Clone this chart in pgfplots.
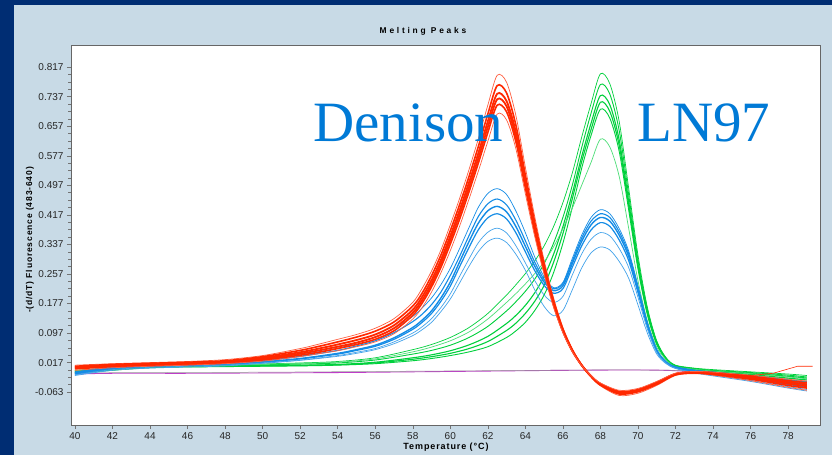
\documentclass[border=0pt]{standalone}
\usepackage{fontspec}
\setmainfont{Liberation Sans}
\newfontfamily\serifbig{Liberation Serif}
\newfontfamily\spacedbold[LetterSpace=33]{Liberation Sans}
\newfontfamily\labelbold[LetterSpace=10]{Liberation Sans}
\usepackage{pgfplots}
\usepackage{pgfplotstable}
\pgfplotsset{compat=1.18}

\definecolor{frameblue}{RGB}{0,45,115}
\definecolor{panel}{RGB}{200,218,230}
\definecolor{curvered}{RGB}{255,40,0}
\definecolor{curvegreen}{RGB}{0,208,60}
\definecolor{curveblue}{RGB}{20,140,230}
\definecolor{curvemag}{RGB}{190,60,200}
\definecolor{annot}{RGB}{0,122,214}

% Denison (red)
\pgfplotstableread{
T    r1     r2     r3     r4     r5     r6
40   0.010  0.007  0.005  0.003  0.000 -0.004
42   0.014  0.012  0.010  0.008  0.006  0.003
44   0.017  0.015  0.013  0.011  0.009  0.007
46   0.020  0.018  0.016  0.014  0.012  0.010
48   0.025  0.022  0.020  0.018  0.016  0.014
50   0.036  0.033  0.030  0.027  0.024  0.021
52   0.055  0.050  0.045  0.041  0.037  0.033
53   0.067  0.061  0.055  0.050  0.045  0.041
54   0.080  0.073  0.066  0.060  0.055  0.049
55   0.093  0.086  0.078  0.071  0.066  0.060
56   0.110  0.102  0.093  0.086  0.080  0.073
57   0.136  0.127  0.118  0.110  0.103  0.095
58   0.180  0.170  0.160  0.152  0.145  0.135
58.5 0.218  0.205  0.195  0.186  0.178  0.166
59   0.265  0.252  0.240  0.230  0.222  0.208
59.5 0.322  0.308  0.295  0.285  0.275  0.260
60   0.390  0.374  0.360  0.349  0.338  0.320
60.5 0.462  0.445  0.430  0.418  0.406  0.387
61   0.540  0.521  0.505  0.492  0.480  0.460
61.5 0.624  0.603  0.585  0.571  0.558  0.536
62   0.714  0.690  0.670  0.655  0.640  0.616
62.5 0.795  0.767  0.745  0.730  0.714  0.690
63   0.776  0.747  0.725  0.711  0.696  0.674
63.5 0.685  0.659  0.640  0.627  0.614  0.595
64   0.546  0.525  0.510  0.500  0.490  0.474
64.5 0.412  0.397  0.385  0.377  0.370  0.358
65   0.294  0.283  0.275  0.270  0.264  0.256
65.5 0.193  0.185  0.180  0.176  0.173  0.167
66   0.112  0.108  0.105  0.103  0.101  0.098
66.5 0.054  0.052  0.050  0.049  0.048  0.047
67   0.011  0.010  0.010  0.010  0.010  0.009
67.5 -0.022 -0.021 -0.020 -0.020 -0.019 -0.018
68   -0.046 -0.044 -0.042 -0.041 -0.040 -0.038
69   -0.072 -0.068 -0.065 -0.063 -0.061 -0.058
70   -0.066 -0.062 -0.060 -0.058 -0.056 -0.053
71   -0.045 -0.042 -0.040 -0.038 -0.036 -0.034
72   -0.018 -0.016 -0.015 -0.014 -0.013 -0.012
73   -0.013 -0.011 -0.010 -0.009 -0.008 -0.007
74   -0.017 -0.015 -0.013 -0.012 -0.010 -0.009
76   -0.032 -0.028 -0.025 -0.022 -0.020 -0.017
78   -0.050 -0.045 -0.040 -0.036 -0.032 -0.028
79   -0.058 -0.052 -0.047 -0.042 -0.038 -0.033
}\redtab

% LN97 (green)
\pgfplotstableread{
T    g1     g2     g3     g4     g5     g6
40   -0.004 -0.006 -0.008 -0.010 -0.012 -0.005
44   0.008  0.006  0.005  0.004  0.003  0.007
48   0.011  0.009  0.008  0.007  0.006  0.010
52   0.016  0.013  0.010  0.009  0.008  0.015
54   0.020  0.016  0.012  0.011  0.010  0.018
56   0.030  0.024  0.018  0.016  0.014  0.027
58   0.052  0.040  0.030  0.026  0.022  0.046
59   0.066  0.050  0.038  0.033  0.028  0.059
60   0.085  0.064  0.049  0.042  0.036  0.076
61   0.112  0.085  0.065  0.055  0.046  0.100
62   0.150  0.115  0.088  0.074  0.060  0.135
63   0.200  0.157  0.123  0.104  0.085  0.180
63.5 0.228  0.182  0.145  0.124  0.103  0.204
64   0.258  0.210  0.172  0.150  0.126  0.230
64.5 0.292  0.243  0.206  0.183  0.158  0.258
65   0.333  0.285  0.250  0.226  0.200  0.290
65.5 0.385  0.340  0.310  0.288  0.260  0.330
66   0.450  0.410  0.385  0.366  0.340  0.380
66.5 0.530  0.497  0.475  0.460  0.437  0.435
67   0.627  0.599  0.575  0.561  0.543  0.497
67.5 0.718  0.692  0.665  0.648  0.632  0.559
68   0.799  0.770  0.740  0.722  0.703  0.622
68.5 0.772  0.744  0.715  0.697  0.679  0.601
69   0.670  0.645  0.620  0.605  0.589  0.521
69.5 0.491  0.473  0.455  0.444  0.432  0.382
70   0.308  0.296  0.285  0.278  0.271  0.239
70.5 0.167  0.161  0.155  0.151  0.147  0.130
71   0.076  0.073  0.070  0.068  0.067  0.059
71.5 0.030  0.029  0.028  0.027  0.027  0.024
72   0.010  0.009  0.008  0.007  0.006  0.006
73   0.002  0.001  0.000  -0.001 -0.002 -0.001
74   -0.002 -0.004 -0.005 -0.007 -0.009 -0.006
76   -0.008 -0.010 -0.012 -0.015 -0.018 -0.013
78   -0.014 -0.017 -0.020 -0.025 -0.030 -0.022
79   -0.018 -0.022 -0.025 -0.030 -0.036 -0.027
}\greentab

% mixed (blue, two peaks)
\pgfplotstableread{
T    b1     b2     b3     b4     b5     b6
40   -0.008 -0.010 -0.012 -0.014 -0.016 -0.018
42   0.006  0.004  0.002  0.000  -0.002 -0.004
44   0.012  0.010  0.008  0.006  0.004  0.002
46   0.015  0.013  0.011  0.009  0.007  0.005
48   0.019  0.017  0.014  0.012  0.010  0.008
50   0.025  0.022  0.019  0.018  0.016  0.015
52   0.038  0.034  0.028  0.027  0.024  0.023
54   0.056  0.050  0.042  0.040  0.036  0.034
55   0.070  0.062  0.052  0.050  0.045  0.042
56   0.086  0.076  0.064  0.061  0.055  0.052
57   0.110  0.098  0.084  0.080  0.073  0.068
58   0.142  0.128  0.112  0.107  0.097  0.090
58.5 0.165  0.148  0.132  0.126  0.114  0.106
59   0.192  0.174  0.157  0.150  0.136  0.126
59.5 0.228  0.208  0.192  0.183  0.166  0.155
60   0.272  0.253  0.235  0.224  0.203  0.189
60.5 0.326  0.305  0.290  0.277  0.251  0.233
61   0.383  0.361  0.345  0.329  0.298  0.278
61.5 0.438  0.413  0.395  0.377  0.342  0.318
62   0.475  0.447  0.428  0.409  0.370  0.345
62.5 0.488  0.460  0.440  0.420  0.381  0.354
63   0.472  0.444  0.425  0.406  0.368  0.342
63.5 0.427  0.402  0.385  0.368  0.333  0.310
64   0.369  0.347  0.332  0.317  0.287  0.267
64.5 0.303  0.289  0.278  0.266  0.239  0.214
65   0.249  0.242  0.235  0.226  0.200  0.169
65.5 0.220  0.217  0.212  0.205  0.180  0.144
66   0.234  0.231  0.225  0.217  0.196  0.158
66.5 0.299  0.292  0.285  0.275  0.254  0.214
67   0.362  0.354  0.345  0.333  0.311  0.273
67.5 0.410  0.400  0.390  0.376  0.351  0.314
68   0.431  0.420  0.410  0.396  0.369  0.330
68.5 0.420  0.410  0.400  0.386  0.360  0.322
69   0.380  0.371  0.362  0.349  0.326  0.291
69.5 0.320  0.313  0.305  0.294  0.275  0.246
70   0.226  0.220  0.215  0.207  0.194  0.173
70.5 0.126  0.123  0.120  0.116  0.108  0.097
71   0.053  0.051  0.050  0.048  0.045  0.040
71.5 0.019  0.018  0.018  0.017  0.016  0.014
72   0.006  0.005  0.004  0.003  0.002  0.001
73   -0.003 -0.005 -0.006 -0.008 -0.010 -0.011
74   -0.008 -0.010 -0.012 -0.014 -0.017 -0.019
76   -0.018 -0.021 -0.024 -0.027 -0.031 -0.034
78   -0.030 -0.034 -0.038 -0.042 -0.048 -0.052
79   -0.036 -0.041 -0.045 -0.050 -0.056 -0.060
}\bluetab

\begin{document}
\begin{tikzpicture}
% frame and panel
\fill[frameblue] (0,0) rectangle (832bp,455bp);
\fill[panel] (14bp,0) rectangle (832bp,450bp);

\begin{axis}[
  at={(71bp,30bp)}, anchor=south west,
  scale only axis, width=749bp, height=380bp,
  xmin=39.79, xmax=79.7, ymin=-0.152, ymax=0.877,
  axis background/.style={fill=white},
  axis line style={draw=black!60},
  xtick={40,42,...,78},
  ytick={-0.063,0.017,0.097,0.177,0.257,0.337,0.417,0.497,0.577,0.657,0.737,0.817},
  minor y tick num=3,
  xtick pos=bottom, ytick pos=left,
  tick align=outside,
  major tick length=4bp, minor tick length=2.5bp,
  tick style={draw=black!55, line width=0.5bp},
  /pgf/number format/assume math mode=true,
  yticklabel style={/pgf/number format/.cd, fixed, fixed zerofill, precision=3},
  ticklabel style={font=\fontsize{10bp}{12bp}\selectfont, text=black!85},
  every axis plot/.append style={smooth},
]
% magenta / grey flat traces
\addplot[curvemag, line width=0.9bp] coordinates {(40,-0.014) (42,-0.012) (46,-0.012) (50,-0.011) (54,-0.010) (58,-0.008) (62,-0.006) (66,-0.004) (70,-0.003) (72,-0.005) (74,-0.012) (76,-0.020) (78,-0.030) (79,-0.034)};
\addplot[black!40, line width=0.5bp] coordinates {(40,-0.011) (44,-0.010) (50,-0.009) (56,-0.007) (62,-0.005) (68,-0.003) (72,-0.004) (74,-0.010) (76,-0.018) (79,-0.030)};

% green
\addplot[curvegreen, line width=0.7bp] table[x=T,y=g1] {\greentab};
\addplot[curvegreen, line width=0.9bp] table[x=T,y=g2] {\greentab};
\addplot[curvegreen, line width=1.1bp] table[x=T,y=g3] {\greentab};
\addplot[curvegreen, line width=1.1bp] table[x=T,y=g4] {\greentab};
\addplot[curvegreen, line width=0.9bp] table[x=T,y=g5] {\greentab};
\addplot[curvegreen!70!white, line width=0.7bp] table[x=T,y=g6] {\greentab};

% blue
\addplot[curveblue, line width=0.7bp] table[x=T,y=b1] {\bluetab};
\addplot[curveblue, line width=1.1bp] table[x=T,y=b2] {\bluetab};
\addplot[curveblue, line width=1.4bp] table[x=T,y=b3] {\bluetab};
\addplot[curveblue, line width=1.2bp] table[x=T,y=b4] {\bluetab};
\addplot[curveblue!80!white, line width=0.7bp] table[x=T,y=b5] {\bluetab};
\addplot[curveblue!80!white, line width=0.7bp] table[x=T,y=b6] {\bluetab};

% red
\addplot[curvered!75!white, line width=0.7bp] table[x=T,y=r1] {\redtab};
\addplot[curvered, line width=1.6bp] table[x=T,y=r2] {\redtab};
\addplot[curvered, line width=1.8bp] table[x=T,y=r3] {\redtab};
\addplot[curvered, line width=1.8bp] table[x=T,y=r4] {\redtab};
\addplot[curvered, line width=1.6bp] table[x=T,y=r5] {\redtab};
\addplot[curvered!75!white, line width=0.7bp] table[x=T,y=r6] {\redtab};
\addplot[curvered, line width=0.6bp, sharp plot] coordinates {(72,-0.012) (74,-0.012) (76,-0.018) (77.2,-0.012) (78.5,0.007) (79.3,0.007)};
\end{axis}

% titles and labels
\node[font=\spacedbold\bfseries\fontsize{8.4bp}{10bp}\selectfont] at (423bp,424bp) {Melting Peaks};
\node[font=\labelbold\bfseries\fontsize{9bp}{11bp}\selectfont] at (446bp,8bp) {Temperature (°C)};
\node[font=\labelbold\bfseries\fontsize{8.5bp}{10bp}\selectfont, rotate=90] at (30bp,215bp) {-(d/dT) Fluorescence (483-640)};

% annotations
\node[font=\serifbig\fontsize{57bp}{60bp}\selectfont, text=annot, anchor=base west, inner sep=0] at (313bp,313bp) {Denison};
\node[font=\serifbig\fontsize{57bp}{60bp}\selectfont, text=annot, anchor=base west, inner sep=0] at (637bp,313bp) {LN97};

\pgfresetboundingbox
\path (0,0) rectangle (832bp,455bp);
\end{tikzpicture}
\end{document}
